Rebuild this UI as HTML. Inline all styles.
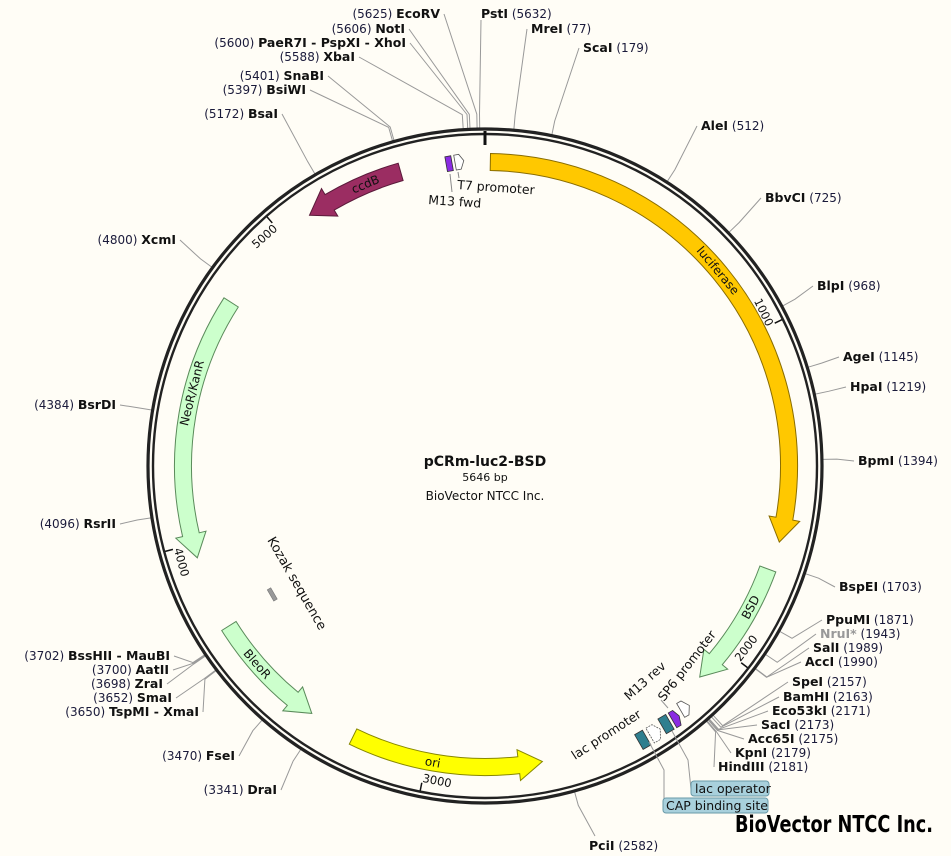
<!DOCTYPE html>
<html><head><meta charset="utf-8"><style>
html,body{margin:0;padding:0;background:#fffdf6;}
svg{display:block;}
text{font-family:"DejaVu Sans","Liberation Sans",sans-serif;}
.n{font-weight:bold;font-size:12.5px;fill:#111;}
.p{font-size:12px;fill:#1a1a3a;}
</style></head><body>
<svg id="s" width="951" height="856" viewBox="0 0 951 856" xmlns="http://www.w3.org/2000/svg">
<rect width="951" height="856" fill="#fffdf6"/>
<g id="lines" stroke="#999" stroke-width="1" fill="none"></g>
<circle cx="485" cy="466" r="337" fill="none" stroke="#222" stroke-width="3.2"/>
<circle cx="485" cy="466" r="332" fill="none" stroke="#222" stroke-width="2.4"/>
<line x1="485" y1="131" x2="485" y2="145" stroke="#111" stroke-width="3"/>
<g id="feat"></g>
<g id="labs"></g>
<!-- top small features -->
<g transform="rotate(-10 450 163)">
<rect x="446" y="156" width="6" height="15" fill="#8a2be2" stroke="#333" stroke-width="0.8"/>
<path d="M455 156 h5 l4 7 l-4 8 h-5 z" fill="#fff" stroke="#555" stroke-width="0.8"/>
</g>
<line x1="450" y1="174" x2="452" y2="192" stroke="#888"/>
<line x1="458" y1="172" x2="459" y2="178" stroke="#888"/>
<text x="457" y="189" font-size="12.5" transform="rotate(4 457 189)" fill="#111">T7 promoter</text>
<text x="428" y="204" font-size="12.5" transform="rotate(4 428 204)" fill="#111">M13 fwd</text>
<!-- lac region -->
<g transform="rotate(-30 655 716)">
<rect x="628" y="722" width="9" height="17" fill="#2f7f8f" stroke="#333" stroke-width="0.8"/>
<path d="M641 722 h7 l5 8 l-5 9 h-7 z" fill="#fff" stroke="#555" stroke-width="0.8" stroke-dasharray="2 1"/>
<rect x="656" y="720" width="9" height="17" fill="#2f7f8f" stroke="#333" stroke-width="0.8"/>
<path d="M668 720 h5 l3 8 l-3 9 h-5 z" fill="#8a2be2" stroke="#333" stroke-width="0.8"/>
<path d="M680 716 h5 l5 8 l-5 8 h-5 z" fill="#fff" stroke="#555" stroke-width="0.8"/>
</g>
<polyline points="649,742 664,770 664,805" fill="none" stroke="#999"/>
<polyline points="672,731 688,760 691,789" fill="none" stroke="#999"/>
<line x1="661" y1="700" x2="668" y2="708" stroke="#999"/>
<text x="575" y="760" font-size="12.5" transform="rotate(-33 575 760)" fill="#111">lac promoter</text>
<text x="629" y="701" font-size="12.5" transform="rotate(-42 629 701)" fill="#111">M13 rev</text>
<text x="664" y="702" font-size="12.5" transform="rotate(-52 664 702)" fill="#111">SP6 promoter</text>
<rect x="691" y="781" width="78" height="15" rx="3" fill="#a8d0dc" stroke="#6a9aa8"/>
<text x="695" y="793" font-size="12.5" fill="#111">lac operator</text>
<rect x="663" y="798" width="105" height="15" rx="3" fill="#a8d0dc" stroke="#6a9aa8"/>
<text x="666" y="810" font-size="12.5" fill="#111">CAP binding site</text>
<!-- Kozak -->
<rect x="270" y="588" width="4" height="13" fill="#999" stroke="#777" stroke-width="0.6" transform="rotate(-30 272 594)"/>
<text x="267" y="540" font-size="13" transform="rotate(60 267 540)" fill="#111">Kozak sequence</text>
<!-- center -->
<text x="485" y="466" text-anchor="middle" font-weight="bold" font-size="14" fill="#111">pCRm-luc2-BSD</text>
<text x="485" y="481" text-anchor="middle" font-size="11" fill="#111">5646 bp</text>
<text x="485" y="500" text-anchor="middle" font-size="12" fill="#111">BioVector NTCC Inc.</text>
<text x="735" y="832" font-family="Liberation Sans" font-weight="bold" font-size="23" textLength="198" lengthAdjust="spacingAndGlyphs" fill="#000">BioVector NTCC Inc.</text>
</svg>
<script>
const NS="http://www.w3.org/2000/svg",cx=485,cy=466;
const rad=d=>d*Math.PI/180;
function P(r,d){return [cx+r*Math.sin(rad(d)),cy-r*Math.cos(rad(d))];}
function f(p){return p[0].toFixed(1)+" "+p[1].toFixed(1);}
function el(t,a,par){const e=document.createElementNS(NS,t);for(const k in a)e.setAttribute(k,a[k]);document.getElementById(par).appendChild(e);return e;}
function arrow(r,w,a1,a2,fill,stroke,label,la){
  const cw=a2>a1, hl=24/r*180/Math.PI, ah=cw?a2-hl:a2+hl, ro=r+w/2, ri=r-w/2, hw=w/2+7;
  const sw=cw?1:0, sw2=cw?0:1;
  const large=Math.abs(ah-a1)>180?1:0;
  let d="M"+f(P(ro,a1))+" A"+ro+" "+ro+" 0 "+large+" "+sw+" "+f(P(ro,ah))+
   " L"+f(P(r+hw,ah))+" L"+f(P(r,a2))+" L"+f(P(r-hw,ah))+" L"+f(P(ri,ah))+
   " A"+ri+" "+ri+" 0 "+large+" "+sw2+" "+f(P(ri,a1))+" Z";
  el("path",{d:d,fill:fill,stroke:stroke,"stroke-width":1},"feat");
  const p=P(r,la);let rot=(la>90&&la<270)?la-180:la;
  const t=el("text",{x:p[0],y:p[1]+4,"text-anchor":"middle","font-size":"12",fill:"#111",transform:`rotate(${rot} ${p[0]} ${p[1]})`},"feat");t.textContent=label;
}
arrow(304,17,1,104.5,"#ffc800","#8a6d00","luciferase",50);
arrow(301,17,110,134.5,"#ccffcc","#5a8a5a","BSD",118);
arrow(301,17,206,169,"#ffff00","#888800","ori",190);
arrow(302,17,238,215,"#ccffcc","#5a8a5a","BleoR",229);
arrow(302,17,302.8,252.3,"#ccffcc","#5a8a5a","NeoR/KanR",284);
arrow(306,18,344,325,"#9b2d62","#5a1a3a","ccdB",337);
[1000,2000,3000,4000,5000].forEach(b=>{
  const a=b/5646*360,p1=P(331,a),p2=P(323,a);
  el("line",{x1:p1[0],y1:p1[1],x2:p2[0],y2:p2[1],stroke:"#111","stroke-width":1.5},"feat");
  const p=P(318,a);let rot,anc;
  if(a>90&&a<270){rot=a-180;anc="start";}else{rot=a;anc="end";}
  const t=el("text",{x:p[0],y:p[1]+4,"text-anchor":anc,"font-size":"11.5",fill:"#111",transform:`rotate(${rot} ${p[0]} ${p[1]})`},"feat");t.textContent=String(b);
});
const E=[
["EcoRV","5625",5625,"L",440,14],["NotI","5606",5606,"L",405,29],["PaeR7I - PspXI - XhoI","5600",5600,"L",406,43],
["XbaI","5588",5588,"L",355,57],["SnaBI","5401",5401,"L",324,76],["BsiWI","5397",5397,"L",306,90],["BsaI","5172",5172,"L",278,114],
["XcmI","4800",4800,"L",176,240],["BsrDI","4384",4384,"L",116,405],["RsrII","4096",4096,"L",116,524],
["BssHII - MauBI","3702",3702,"L",170,656],["AatII","3700",3700,"L",169,670],["ZraI","3698",3698,"L",163,684],
["SmaI","3652",3652,"L",172,698],["TspMI - XmaI","3650",3650,"L",199,712],["FseI","3470",3470,"L",235,756],["DraI","3341",3341,"L",277,790],
["PstI","5632",5632,"T",481,14],["MreI","77",77,"R",531,29],["ScaI","179",179,"R",583,48],
["AleI","512",512,"R",701,126],["BbvCI","725",725,"R",765,198],["BlpI","968",968,"R",817,286],["AgeI","1145",1145,"R",843,357],
["HpaI","1219",1219,"R",850,387],["BpmI","1394",1394,"R",858,461],["BspEI","1703",1703,"R",839,587],["PpuMI","1871",1871,"R",826,620],
["NruI*","1943",1943,"R",820,634,1],["SalI","1989",1989,"R",813,648],["AccI","1990",1990,"R",805,662],["SpeI","2157",2157,"R",792,682],
["BamHI","2163",2163,"R",783,697],["Eco53kI","2171",2171,"R",772,711],["SacI","2173",2173,"R",761,725],["Acc65I","2175",2175,"R",748,739],
["KpnI","2179",2179,"R",735,753],["HindIII","2181",2181,"R",718,767],["PciI","2582",2582,"R",589,846]];
E.forEach(e=>{
  const [nm,num,bp,side,x,y,gray]=e,a=bp/5646*360;
  const t=el("text",{x:x,y:y+4,"text-anchor":side==="L"?"end":"start"},"labs");
  const mk=(c,s)=>{const ts=document.createElementNS(NS,"tspan");ts.setAttribute("class",c);ts.textContent=s;t.appendChild(ts);return ts;};
  if(side==="L"){mk("p","("+num+")  ");mk("n",nm);}
  else{const n=mk("n",nm);if(gray)n.setAttribute("style","fill:#999");mk("p","  ("+num+")");}
  const p0=P(338,a),p1=P(352,a);
  let tx,ty;
  if(side==="L"){tx=x+4;ty=y;}else if(side==="T"){tx=x;ty=y+6;}else{tx=x-4;ty=y;}
  if(bp===2582){tx=x+6;ty=y-10;}
  el("polyline",{points:f(p0)+" "+f(p1)+" "+tx+" "+ty},"lines");
});
</script>
</body></html>
